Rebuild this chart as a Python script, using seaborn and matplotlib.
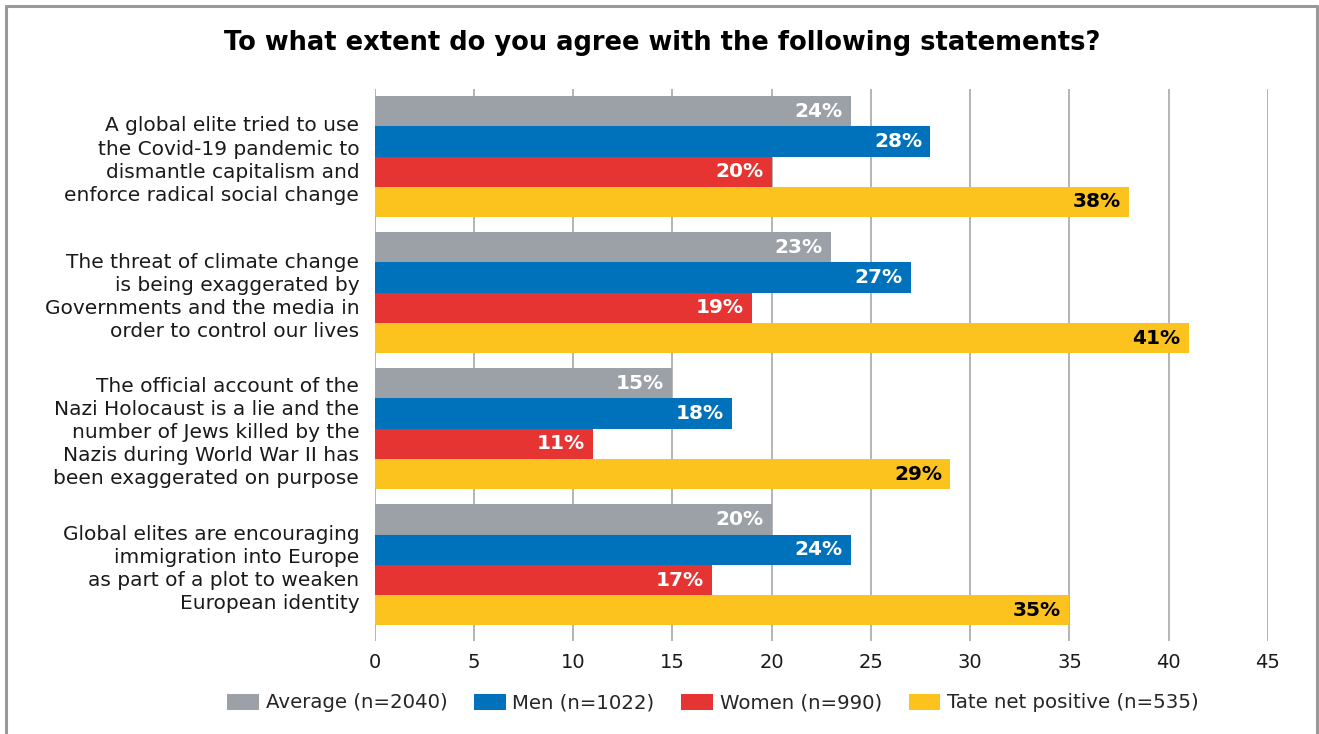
import matplotlib
matplotlib.use("Agg")
import matplotlib.pyplot as plt
from matplotlib.lines import Line2D
import seaborn as sns
import pandas as pd

statements = [
    "A global elite tried to use\nthe Covid-19 pandemic to\ndismantle capitalism and\nenforce radical social change",
    "The threat of climate change\nis being exaggerated by\nGovernments and the media in\norder to control our lives",
    "The official account of the\nNazi Holocaust is a lie and the\nnumber of Jews killed by the\nNazis during World War II has\nbeen exaggerated on purpose",
    "Global elites are encouraging\nimmigration into Europe\nas part of a plot to weaken\nEuropean identity",
]
groups = ["Average (n=2040)", "Men (n=1022)", "Women (n=990)", "Tate net positive (n=535)"]
average = [24, 23, 15, 20]
men = [28, 27, 18, 24]
women = [20, 19, 11, 17]
tate = [38, 41, 29, 35]
x_ticks = [0, 5, 10, 15, 20, 25, 30, 35, 40, 45]

colors = ["#9ba1a7", "#0072bc", "#e63433", "#fcc31e"]
label_colors = ["white", "white", "white", "black"]

rows = []
for g, vals in zip(groups, [average, men, women, tate]):
    for s, v in zip(statements, vals):
        rows.append({"statement": s, "group": g, "value": v})
df = pd.DataFrame(rows)

sns.set_theme(style="white")
plt.rcParams["font.family"] = ["DejaVu Sans"]

fig = plt.figure(figsize=(13.19, 7.34), dpi=100)
ax = fig.add_axes([374.5 / 1319, 1 - 641 / 734, (1268 - 374.5) / 1319, (641 - 89) / 734])

sns.barplot(data=df, y="statement", x="value", hue="group", orient="h",
            palette=colors, width=0.89, gap=0, dodge=True, ax=ax,
            saturation=1, legend=True, linewidth=0, zorder=2)

ax.set_xlim(0, 45)
ax.set_ylim(3.559, -0.496)
ax.set_xticks(x_ticks)
ax.set_xticklabels([str(t) for t in x_ticks], fontsize=14, color="#1a1a1a")
ax.tick_params(axis="x", length=0, pad=9)
ax.tick_params(axis="y", length=0, pad=11)
for lab in ax.get_yticklabels():
    lab.set_fontsize(14.5)
    lab.set_color("#1a1a1a")
    lab.set_linespacing(1.27)
ax.set_xlabel("")
ax.set_ylabel("")
for sp in ax.spines.values():
    sp.set_visible(False)
ax.xaxis.grid(True, color="#a8a8a8", linewidth=1.2, zorder=0)
ax.set_axisbelow(True)

# value labels inside the end of each bar
for container, tc in zip(ax.containers, label_colors):
    for bar in container:
        w = bar.get_width()
        yc = bar.get_y() + bar.get_height() / 2
        ax.annotate(f"{w:.0f}%", xy=(w, yc), xytext=(-6, 0), textcoords="offset points",
                    ha="right", va="center", fontsize=14.5, fontweight="heavy",
                    color=tc)

handles, labels = ax.get_legend_handles_labels()
ax.get_legend().remove()
fig.legend(handles, labels, loc="center", bbox_to_anchor=(713 / 1319, 1 - 703 / 734),
           ncol=4, frameon=False, fontsize=14.2, handlelength=1.6, handleheight=0.85,
           handletextpad=0.35, columnspacing=1.35, borderaxespad=0)

fig.text(662 / 1319, 1 - 43 / 734, "To what extent do you agree with the following statements?",
         ha="center", va="center", fontsize=18.5, fontweight="heavy", color="black")

# outer frame
frame_kw = dict(color="#999999", linewidth=2.2, transform=fig.transFigure)
fig.add_artist(Line2D([6 / 1319, 6 / 1319], [0, 1 - 6 / 734], **frame_kw))
fig.add_artist(Line2D([6 / 1319, 1317 / 1319], [1 - 6 / 734, 1 - 6 / 734], **frame_kw))
fig.add_artist(Line2D([1317 / 1319, 1317 / 1319], [0, 1 - 6 / 734], **frame_kw))

fig.savefig("out.png", dpi=100)
